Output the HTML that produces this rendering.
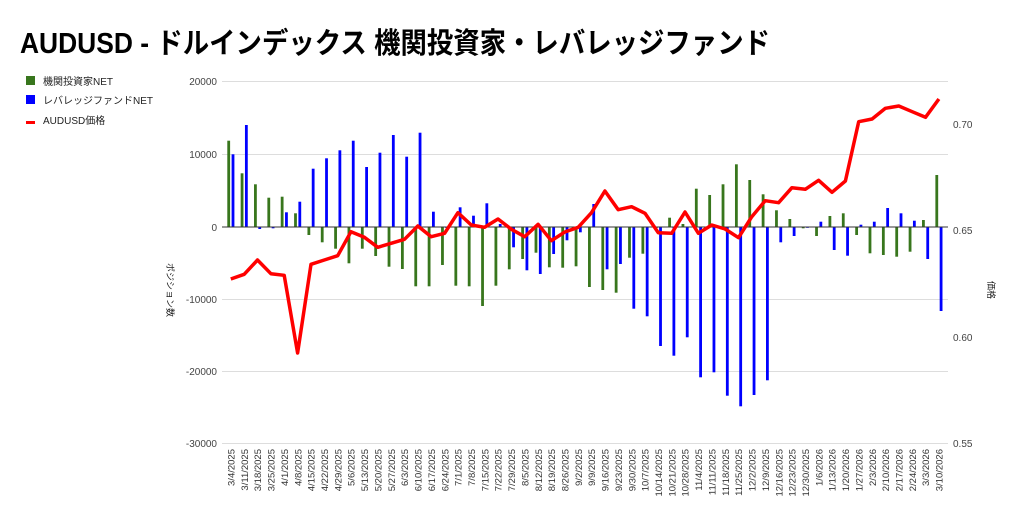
<!DOCTYPE html>
<html><head><meta charset="utf-8"><style>
html,body{margin:0;padding:0;background:#fff;}
svg{display:block;font-family:"Liberation Sans","Noto Sans CJK JP",sans-serif;}
</style></head><body>
<svg id="c" width="1024" height="525" viewBox="0 0 1024 525">
<text x="20" y="53" font-size="29" font-weight="bold" fill="#000" textLength="750" lengthAdjust="spacingAndGlyphs">AUDUSD - ドルインデックス 機関投資家・レバレッジファンド</text>
<rect x="26" y="76" width="9" height="9" fill="#38761d"/>
<text x="43" y="85" font-size="10" fill="#222">機関投資家NET</text>
<rect x="26" y="95" width="9" height="9" fill="#0000ff"/>
<text x="43" y="104" font-size="10" fill="#222">レバレッジファンドNET</text>
<rect x="26" y="121" width="9" height="3" fill="#ff0000"/>
<text x="43" y="124" font-size="10" fill="#222">AUDUSD価格</text>
<g stroke="#ddd" stroke-width="1">
<line x1="222" y1="81.5" x2="948" y2="81.5"/>
<line x1="222" y1="154.5" x2="948" y2="154.5"/>
<line x1="222" y1="299.5" x2="948" y2="299.5"/>
<line x1="222" y1="371.5" x2="948" y2="371.5"/>
<line x1="222" y1="443.5" x2="948" y2="443.5"/>
</g>
<g font-size="10" fill="#444" text-anchor="end">
<text x="217" y="85">20000</text>
<text x="217" y="158">10000</text>
<text x="217" y="231">0</text>
<text x="217" y="303">-10000</text>
<text x="217" y="375">-20000</text>
<text x="217" y="447">-30000</text>
</g>
<g font-size="10" fill="#444">
<text x="953" y="128">0.70</text>
<text x="953" y="234">0.65</text>
<text x="953" y="341">0.60</text>
<text x="953" y="447">0.55</text>
</g>
<text transform="translate(167,290) rotate(90)" font-size="9" fill="#222" text-anchor="middle">ポジション数</text>
<text transform="translate(988,290) rotate(90)" font-size="9" fill="#222" text-anchor="middle">価格</text>
<g id="bars"></g>
<line x1="222" y1="227" x2="948" y2="227" stroke="#333" stroke-width="1"/>
<polyline id="red" fill="none" stroke="#ff0000" stroke-width="3.5" stroke-linejoin="round"/>
<g font-size="9.5" fill="#333" text-anchor="end">
<text transform="translate(234.5,449) rotate(-90)">3/4/2025</text>
<text transform="translate(247.9,449) rotate(-90)">3/11/2025</text>
<text transform="translate(261.2,449) rotate(-90)">3/18/2025</text>
<text transform="translate(274.6,449) rotate(-90)">3/25/2025</text>
<text transform="translate(287.9,449) rotate(-90)">4/1/2025</text>
<text transform="translate(301.3,449) rotate(-90)">4/8/2025</text>
<text transform="translate(314.7,449) rotate(-90)">4/15/2025</text>
<text transform="translate(328.0,449) rotate(-90)">4/22/2025</text>
<text transform="translate(341.4,449) rotate(-90)">4/29/2025</text>
<text transform="translate(354.7,449) rotate(-90)">5/6/2025</text>
<text transform="translate(368.1,449) rotate(-90)">5/13/2025</text>
<text transform="translate(381.5,449) rotate(-90)">5/20/2025</text>
<text transform="translate(394.8,449) rotate(-90)">5/27/2025</text>
<text transform="translate(408.2,449) rotate(-90)">6/3/2025</text>
<text transform="translate(421.5,449) rotate(-90)">6/10/2025</text>
<text transform="translate(434.9,449) rotate(-90)">6/17/2025</text>
<text transform="translate(448.3,449) rotate(-90)">6/24/2025</text>
<text transform="translate(461.6,449) rotate(-90)">7/1/2025</text>
<text transform="translate(475.0,449) rotate(-90)">7/8/2025</text>
<text transform="translate(488.3,449) rotate(-90)">7/15/2025</text>
<text transform="translate(501.7,449) rotate(-90)">7/22/2025</text>
<text transform="translate(515.1,449) rotate(-90)">7/29/2025</text>
<text transform="translate(528.4,449) rotate(-90)">8/5/2025</text>
<text transform="translate(541.8,449) rotate(-90)">8/12/2025</text>
<text transform="translate(555.1,449) rotate(-90)">8/19/2025</text>
<text transform="translate(568.5,449) rotate(-90)">8/26/2025</text>
<text transform="translate(581.9,449) rotate(-90)">9/2/2025</text>
<text transform="translate(595.2,449) rotate(-90)">9/9/2025</text>
<text transform="translate(608.6,449) rotate(-90)">9/16/2025</text>
<text transform="translate(621.9,449) rotate(-90)">9/23/2025</text>
<text transform="translate(635.3,449) rotate(-90)">9/30/2025</text>
<text transform="translate(648.7,449) rotate(-90)">10/7/2025</text>
<text transform="translate(662.0,449) rotate(-90)">10/14/2025</text>
<text transform="translate(675.4,449) rotate(-90)">10/21/2025</text>
<text transform="translate(688.7,449) rotate(-90)">10/28/2025</text>
<text transform="translate(702.1,449) rotate(-90)">11/4/2025</text>
<text transform="translate(715.5,449) rotate(-90)">11/11/2025</text>
<text transform="translate(728.8,449) rotate(-90)">11/18/2025</text>
<text transform="translate(742.2,449) rotate(-90)">11/25/2025</text>
<text transform="translate(755.5,449) rotate(-90)">12/2/2025</text>
<text transform="translate(768.9,449) rotate(-90)">12/9/2025</text>
<text transform="translate(782.3,449) rotate(-90)">12/16/2025</text>
<text transform="translate(795.6,449) rotate(-90)">12/23/2025</text>
<text transform="translate(809.0,449) rotate(-90)">12/30/2025</text>
<text transform="translate(822.3,449) rotate(-90)">1/6/2026</text>
<text transform="translate(835.7,449) rotate(-90)">1/13/2026</text>
<text transform="translate(849.1,449) rotate(-90)">1/20/2026</text>
<text transform="translate(862.4,449) rotate(-90)">1/27/2026</text>
<text transform="translate(875.8,449) rotate(-90)">2/3/2026</text>
<text transform="translate(889.1,449) rotate(-90)">2/10/2026</text>
<text transform="translate(902.5,449) rotate(-90)">2/17/2026</text>
<text transform="translate(915.9,449) rotate(-90)">2/24/2026</text>
<text transform="translate(929.2,449) rotate(-90)">3/3/2026</text>
<text transform="translate(942.6,449) rotate(-90)">3/10/2026</text>
</g>
</svg>
<script>
var G=[140.7,173.3,184.3,197.7,196.7,213.3,235,242.3,248.7,263.3,248.7,256,266.7,269,286.3,286.3,265,285.7,286.3,306,285.7,269.3,259,252.7,267.3,267.7,266.3,287,290,292.7,257.7,253.7,228,217.7,224,188.7,195,184.3,164.3,180,194.3,210.3,219,228.3,236,216,213.3,235,253.3,255,256.7,251.7,220,175];
var B=[154.3,125,229,228.3,212.3,201.7,168.7,158.3,150.3,140.7,167,152.7,135,156.7,132.7,211.7,228,207.3,215.7,203.3,224,247.3,270.3,274,254,240.3,232.3,204,269.3,264,308.7,316.3,346,355.7,337.3,377.3,372.3,395.7,406.3,395,380.3,242.3,236,227,221.7,250,255.7,224.7,221.7,208,213.3,220.7,259,311];
var R=[279,274.3,260,273.7,275.3,353,264.3,260,255.7,231.7,237.3,247.3,243.3,239.3,226,236.7,233.3,212.7,225,227.3,219,229.3,236.7,224.3,240.7,232,227.3,212.7,191,209.7,206.7,213.3,232.7,233.3,212,233.3,225,229,237.7,216.7,200.7,202.7,187.7,189.3,180.3,192.3,181,121.7,119,108.3,106,111.7,117.3,99];
var ns="http://www.w3.org/2000/svg",g=document.getElementById("bars"),pts=[];
function bar(x,y,c){var r=document.createElementNS(ns,"rect");var t=Math.min(y,227),h=Math.abs(y-227);if(h<0.5)h=0.8;r.setAttribute("x",x-1.4);r.setAttribute("y",t);r.setAttribute("width",2.8);r.setAttribute("height",h);r.setAttribute("fill",c);g.appendChild(r);}
for(var i=0;i<54;i++){var gx=228.7+13.36*i;bar(gx,G[i],"#38761d");bar(gx+4.3,B[i],"#0000ff");pts.push((gx+2.1).toFixed(1)+","+R[i]);}
document.getElementById("red").setAttribute("points",pts.join(" "));
</script>
</body></html>
